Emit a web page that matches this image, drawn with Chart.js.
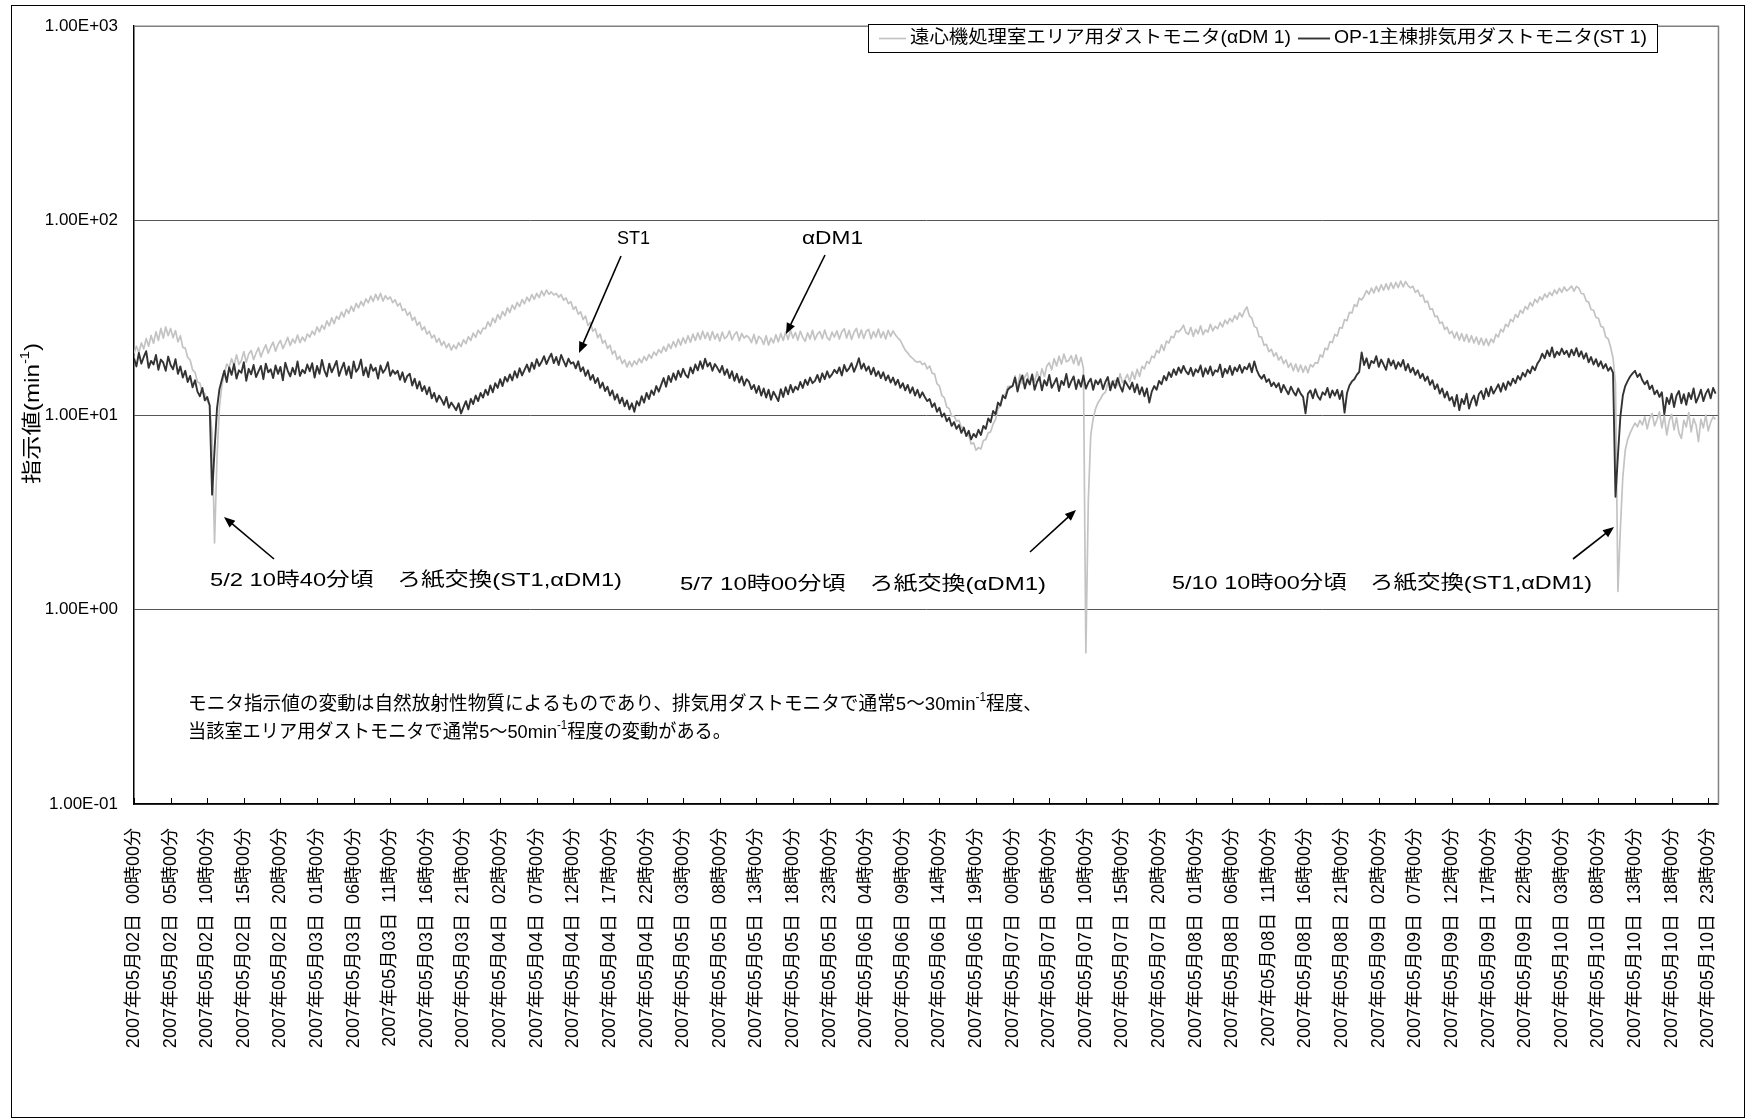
<!DOCTYPE html>
<html lang="ja">
<head>
<meta charset="utf-8">
<title>ダストモニタ指示値の推移</title>
<script src="https://cdn.jsdelivr.net/npm/chart.js@4.4.1/dist/chart.umd.min.js"></script>
<style>
  html, body { margin: 0; padding: 0; background: #fff; }
  canvas { display: block; }
</style>
</head>
<body>
<canvas id="chart" width="1746" height="1120"></canvas>
<script>
// ---- data: readings every 20 minutes from 2007/05/02 00:00 ----
const samplesPerHour = 3;

const seriesNames = [
  '遠心機処理室エリア用ダストモニタ(αDM 1)',
  'OP-1主棟排気用ダストモニタ(ST 1)'
];

// αDM1 (min^-1), one row per 12 hours
const adm1Values = [
  20.8, 22.6, 21.0, 23.5, 21.9, 24.8, 22.6, 25.7, 23.4, 26.8, 24.2, 27.9, 24.9, 28.4, 25.6, 27.9, 25.0, 27.2, 23.8, 25.6, 22.3, 22.1, 19.8, 19.2, 17.1, 16.6, 14.8, 14.6, 13.0, 12.9, 11.8, 11.3, 8.0, 2.2, 6.0, 11.0,
  14.2, 16.4, 18.3, 17.6, 19.5, 18.0, 20.4, 18.2, 19.1, 21.2, 18.7, 20.6, 21.5, 19.3, 20.8, 22.2, 19.9, 21.6, 23.0, 20.8, 22.4, 23.7, 21.3, 23.1, 24.2, 22.0, 23.4, 25.1, 22.8, 24.6, 23.5, 25.8, 23.6, 25.2, 24.0, 26.1,
  25.2, 27.0, 25.9, 28.4, 26.8, 29.0, 27.6, 30.5, 28.8, 31.6, 29.5, 32.2, 31.1, 33.9, 32.0, 35.0, 33.4, 36.3, 34.2, 37.5, 35.6, 38.4, 36.5, 39.6, 37.8, 40.9, 38.4, 41.8, 39.1, 42.3, 38.6, 41.1, 39.4, 40.5, 37.9, 39.2,
  36.4, 37.6, 34.5, 35.2, 32.6, 33.8, 30.7, 31.9, 29.0, 30.1, 27.4, 28.5, 26.1, 27.0, 24.9, 25.8, 23.7, 24.8, 22.8, 23.9, 22.2, 23.3, 21.6, 22.9, 21.9, 23.6, 22.5, 24.4, 23.3, 25.3, 24.2, 26.4, 25.1, 27.3, 26.2, 28.0,
  27.8, 30.2, 28.6, 31.5, 29.9, 32.9, 31.2, 34.1, 32.4, 35.6, 33.7, 36.8, 35.0, 38.0, 36.2, 39.3, 37.4, 40.4, 38.5, 41.7, 39.4, 42.3, 40.2, 43.5, 41.1, 44.0, 41.8, 43.0, 41.5, 42.2, 40.4, 41.6, 39.0, 40.1, 37.4, 38.3,
  35.0, 36.1, 33.1, 34.0, 31.0, 32.3, 28.9, 30.0, 27.0, 27.8, 25.0, 26.1, 23.4, 24.2, 22.0, 22.9, 20.6, 21.4, 19.3, 20.1, 18.4, 19.2, 17.7, 18.9, 17.8, 19.0, 18.2, 19.5, 18.6, 20.0, 19.1, 20.5, 19.6, 21.1, 20.3, 21.7,
  20.9, 22.5, 21.3, 23.2, 22.0, 23.9, 22.4, 24.6, 22.9, 25.0, 23.4, 25.6, 23.7, 26.1, 24.2, 26.5, 24.5, 27.0, 24.8, 26.6, 24.3, 26.9, 24.6, 26.2, 24.0, 26.7, 24.7, 25.4, 27.1, 24.4, 25.9, 26.8, 24.1, 26.3, 24.9, 25.6,
  25.0, 23.6, 26.0, 23.3, 25.4, 24.7, 23.1, 25.6, 22.9, 24.9, 23.5, 25.9, 23.8, 26.3, 24.2, 26.8, 24.5, 27.2, 24.9, 26.6, 24.3, 27.0, 25.1, 24.0, 26.5, 24.6, 27.3, 24.4, 26.1, 26.9, 24.7, 27.4, 25.0, 24.3, 26.7, 25.2,
  27.1, 24.6, 26.8, 27.8, 24.9, 27.3, 24.5, 26.7, 27.9, 25.0, 27.4, 24.8, 27.0, 27.6, 24.7, 26.9, 25.2, 27.7, 25.0, 26.8, 24.6, 27.3, 25.4, 27.1, 25.8, 24.9, 24.2, 22.8, 21.6, 20.9, 20.1, 19.6, 19.0, 18.7, 18.9, 18.2,
  18.5, 17.3, 17.9, 16.4, 16.3, 14.5, 14.1, 12.6, 12.3, 11.0, 10.8, 9.9, 9.9, 9.3, 9.4, 8.6, 8.7, 7.8, 7.9, 7.1, 7.2, 6.6, 6.8, 6.7, 7.4, 7.5, 8.1, 8.2, 9.0, 9.5, 10.8, 11.2, 12.7, 12.8, 14.0, 14.1,
  14.2, 15.9, 13.8, 16.2, 14.5, 15.7, 16.5, 14.3, 16.1, 14.8, 16.7, 15.1, 17.3, 15.8, 17.9, 18.6, 17.1, 19.5, 17.9, 20.1, 18.3, 20.6, 18.8, 19.1, 20.2, 18.4, 20.4, 18.0, 19.8, 17.4, 0.6, 3.6, 7.9, 9.6, 10.8, 11.6,
  12.1, 12.8, 13.1, 14.6, 14.3, 15.0, 15.1, 14.2, 16.3, 14.7, 15.2, 16.2, 14.9, 16.7, 15.3, 17.2, 15.8, 17.8, 17.3, 18.9, 18.4, 20.1, 19.7, 21.5, 20.9, 23.0, 21.5, 24.0, 23.5, 25.4, 25.0, 27.1, 26.8, 27.6, 29.0, 26.6,
  26.0, 28.3, 25.4, 27.6, 26.2, 28.8, 25.9, 27.4, 26.7, 29.3, 27.1, 28.6, 27.8, 29.9, 28.4, 30.8, 29.5, 31.4, 30.2, 32.5, 31.1, 33.6, 32.0, 34.4, 36.0, 32.4, 31.5, 28.6, 28.1, 25.3, 25.2, 22.9, 23.1, 21.2, 21.8, 20.1,
  20.9, 19.2, 20.0, 18.4, 19.2, 17.6, 18.5, 16.9, 18.3, 16.7, 18.1, 16.6, 17.9, 16.5, 18.2, 17.7, 18.6, 18.5, 20.4, 19.9, 22.1, 21.7, 23.9, 23.6, 26.0, 25.5, 28.2, 28.0, 31.0, 30.6, 33.8, 33.5, 37.0, 36.2, 39.9, 39.1,
  41.0, 43.7, 41.8, 45.0, 42.5, 45.9, 43.1, 46.8, 43.9, 47.3, 44.2, 47.9, 44.8, 48.1, 45.3, 48.9, 45.7, 48.6, 46.3, 45.1, 46.0, 42.8, 43.9, 40.9, 41.5, 38.0, 38.6, 35.0, 35.2, 32.1, 32.3, 29.7, 30.1, 27.6, 28.3, 26.2,
  27.0, 24.9, 26.7, 24.3, 26.3, 24.0, 26.0, 23.7, 25.6, 23.5, 25.2, 23.1, 24.9, 22.9, 24.7, 22.8, 24.6, 23.6, 26.0, 25.2, 27.6, 26.8, 29.3, 28.5, 31.1, 30.2, 32.9, 31.8, 34.6, 33.4, 36.2, 35.0, 37.9, 36.4, 39.4, 37.9,
  40.6, 39.1, 41.9, 40.3, 42.8, 41.2, 44.0, 42.1, 44.9, 42.8, 45.6, 43.5, 44.6, 46.1, 43.4, 45.9, 45.0, 42.2, 42.0, 38.6, 38.1, 34.9, 34.6, 31.8, 31.5, 28.6, 28.3, 25.2, 24.7, 22.4, 19.6, 14.5, 1.24, 2.6, 4.8, 6.6,
  7.5, 8.1, 8.6, 9.1, 8.7, 9.4, 8.9, 9.8, 8.5, 9.6, 10.2, 8.8, 9.5, 10.4, 8.6, 9.9, 7.9, 9.3, 10.1, 8.4, 9.7, 8.1, 7.6, 9.4, 8.7, 10.3, 8.2, 9.6, 8.9, 7.3, 9.5, 8.6, 10.0, 8.3, 9.2, 9.8,
  9.5
];

// ST1 (min^-1), one row per 12 hours
const st1Values = [
  19.6, 17.8, 20.9, 18.4, 19.9, 21.3, 17.5, 19.0, 18.2, 20.4, 17.1, 19.3, 18.6, 16.9, 20.0, 18.1, 17.2, 19.4, 16.3, 17.8, 15.6, 16.9, 14.8, 15.9, 13.9, 15.1, 13.2, 12.5, 13.8, 11.9, 12.4, 11.2, 3.9, 6.6, 10.8, 13.6,
  15.2, 16.9, 14.8, 17.6, 16.1, 18.3, 15.4, 17.0, 16.5, 18.7, 15.0, 17.3, 16.2, 18.1, 15.7, 16.8, 17.9, 15.3, 18.4, 16.6, 17.2, 15.5, 18.0, 16.3, 17.7, 15.1, 18.6, 16.9, 15.8, 17.5, 16.2, 18.9, 15.9, 17.1, 16.4, 18.2,
  16.8, 18.5, 15.6, 17.9, 16.3, 19.2, 17.0, 15.8, 18.4, 16.6, 17.7, 19.0, 15.9, 17.3, 18.6, 16.1, 17.8, 15.5, 18.9, 16.7, 17.4, 19.3, 16.0, 17.6, 15.7, 18.2, 16.9, 17.5, 15.4, 18.0, 16.5, 17.2, 18.7, 15.9, 17.0, 16.3,
  16.9, 15.2, 16.6, 14.8, 15.9, 16.3, 14.2, 15.4, 13.7, 14.9, 13.3, 14.1, 12.8, 13.9, 12.2, 13.0, 11.7, 12.6, 12.0, 11.3, 12.4, 10.9, 11.6, 11.1, 10.6, 11.5, 10.2, 11.0, 11.8, 10.7, 12.1, 11.4, 12.6, 11.8, 13.0, 12.3,
  13.5, 12.7, 14.2, 13.1, 14.6, 13.8, 15.3, 14.1, 15.7, 14.9, 16.2, 15.1, 16.8, 15.6, 17.4, 16.0, 17.1, 18.2, 16.7, 18.6, 17.3, 19.4, 17.9, 18.8, 20.1, 18.3, 19.6, 20.7, 18.5, 19.9, 18.1, 20.4, 19.0, 17.8, 19.5, 18.4,
  18.7, 17.4, 18.9, 16.8, 17.6, 15.9, 17.0, 15.2, 16.1, 14.6, 15.5, 13.8, 14.7, 13.3, 14.0, 12.6, 13.4, 12.0, 12.8, 11.5, 12.3, 11.1, 11.9, 10.7, 11.5, 10.4, 11.8, 11.2, 12.5, 11.6, 13.0, 12.1, 13.4, 12.7, 14.1, 13.2,
  14.3, 15.5, 14.0, 15.9, 14.8, 16.4, 15.2, 16.9, 15.7, 17.3, 16.1, 15.6, 17.6, 16.4, 18.2, 17.0, 18.9, 17.3, 19.5, 17.8, 18.6, 16.9, 18.3, 17.5, 16.6, 17.9, 16.1, 17.2, 15.5, 16.8, 15.0, 16.3, 14.7, 15.8, 14.2, 15.3,
  14.8, 13.6, 14.3, 13.0, 14.1, 12.6, 13.7, 12.3, 13.5, 12.0, 13.2, 12.5, 11.8, 13.6, 12.4, 13.9, 12.8, 14.3, 13.1, 14.0, 13.5, 14.8, 13.8, 15.2, 14.3, 15.6, 14.6, 15.0, 16.1, 14.8, 16.4, 15.3, 16.8, 15.6, 16.2, 17.1,
  16.4, 17.6, 16.0, 18.1, 16.8, 17.4, 18.5, 16.7, 17.9, 19.6, 17.3, 18.4, 16.9, 17.8, 16.2, 17.5, 15.9, 16.8, 15.5, 16.6, 15.1, 16.0, 14.7, 15.6, 14.3, 15.2, 13.8, 14.6, 13.4, 14.3, 13.0, 13.9, 12.6, 13.5, 12.3, 13.1,
  12.4, 11.8, 12.1, 11.0, 11.5, 10.4, 10.9, 9.8, 10.2, 9.3, 9.7, 8.8, 9.2, 8.5, 8.9, 8.1, 8.6, 7.8, 8.3, 7.5, 8.0, 7.7, 8.4, 7.9, 8.8, 8.5, 9.6, 9.2, 10.5, 10.1, 11.6, 11.2, 12.6, 12.2, 13.5, 13.9,
  14.1, 15.6, 13.2, 14.9, 16.0, 13.7, 15.3, 14.4, 16.2, 13.5, 14.8, 15.7, 13.4, 15.1, 14.2, 16.1, 13.8, 14.6, 15.5, 13.3, 15.0, 14.3, 16.3, 13.9, 14.9, 15.8, 13.6, 15.2, 14.0, 16.0, 13.7, 14.7, 15.4, 13.5, 15.1, 14.4,
  15.3, 13.6, 14.8, 15.7, 13.4, 14.9, 13.8, 15.5, 14.1, 13.2, 15.0, 14.3, 13.6, 14.7, 13.1, 14.4, 12.8, 13.9, 12.5, 13.7, 11.6, 13.2, 14.1, 13.5, 15.0, 14.4, 15.9, 15.1, 16.6, 15.7, 17.2, 16.1, 17.6, 16.5, 17.9, 16.8,
  16.2, 17.5, 15.9, 17.2, 16.6, 18.0, 15.8, 17.4, 16.3, 17.8, 16.0, 17.0, 16.7, 18.2, 15.7, 17.3, 16.4, 17.9, 16.1, 17.6, 16.8, 18.1, 16.5, 17.7, 17.2, 18.4, 16.6, 18.9, 17.1, 16.0, 15.4, 16.1, 14.8, 15.3, 14.1, 14.7,
  13.9, 14.6, 13.1, 14.3, 13.5, 12.8, 14.0, 13.2, 12.6, 13.7, 12.9, 12.4, 10.2, 12.9, 13.4, 12.2, 13.6, 12.5, 12.0, 13.1, 12.7, 13.8, 12.3, 13.4, 12.6, 13.5, 12.1, 13.3, 10.3, 13.0, 14.2, 14.9, 15.3, 16.1, 16.7, 21.0,
  18.1, 19.6, 17.4, 19.0, 18.5, 20.1, 17.7, 19.3, 18.2, 17.1, 19.5, 18.0, 19.1, 17.3, 18.7, 17.8, 19.2, 17.0, 18.3, 16.6, 17.5, 16.1, 17.0, 15.5, 16.3, 15.0, 15.8, 14.3, 15.1, 13.6, 14.4, 12.9, 13.7, 12.3, 13.2, 11.9,
  12.4, 11.1, 12.7, 10.6, 12.1, 11.4, 12.9, 10.8, 11.9, 12.6, 11.2, 12.8, 13.3, 12.1, 13.7, 12.5, 14.0, 12.9, 13.6, 14.4, 13.2, 14.6, 13.5, 14.9, 14.2, 15.4, 14.6, 15.9, 15.2, 16.5, 15.8, 17.1, 16.4, 17.8, 17.0, 18.4,
  19.2, 20.7, 19.6, 21.5, 20.1, 22.3, 19.8, 21.2, 20.4, 22.0, 20.6, 21.4, 19.9, 21.7, 20.3, 22.1, 20.0, 21.3, 19.5, 20.8, 18.7, 19.9, 18.2, 19.4, 17.8, 18.9, 17.4, 18.3, 16.9, 17.6, 16.5, 3.8, 6.2, 9.8, 12.6, 14.1,
  15.0, 15.8, 16.4, 16.9, 15.7, 16.3, 15.1, 14.4, 15.0, 13.6, 14.2, 12.8, 13.4, 12.4, 13.1, 10.1, 12.3, 11.4, 12.9, 11.0, 12.6, 13.3, 11.5, 12.8, 11.3, 13.0, 12.1, 13.7, 11.6, 12.4, 13.5, 11.8, 12.9, 13.6, 12.2, 13.8,
  12.9
];

// x axis: labelled every 5 hours (hours since 2007/05/02 00:00)
const tickHours = [
  0, 5, 10, 15, 20, 25, 30, 35, 40, 45, 50, 55, 60, 65, 70, 75, 80, 85, 90, 95, 100, 105,
  110, 115, 120, 125, 130, 135, 140, 145, 150, 155, 160, 165, 170, 175, 180, 185, 190, 195, 200, 205, 210, 215
];
const tickLabels = [
  '2007年05月02日  00時00分', '2007年05月02日  05時00分', '2007年05月02日  10時00分', '2007年05月02日  15時00分',
  '2007年05月02日  20時00分', '2007年05月03日  01時00分', '2007年05月03日  06時00分', '2007年05月03日  11時00分',
  '2007年05月03日  16時00分', '2007年05月03日  21時00分', '2007年05月04日  02時00分', '2007年05月04日  07時00分',
  '2007年05月04日  12時00分', '2007年05月04日  17時00分', '2007年05月04日  22時00分', '2007年05月05日  03時00分',
  '2007年05月05日  08時00分', '2007年05月05日  13時00分', '2007年05月05日  18時00分', '2007年05月05日  23時00分',
  '2007年05月06日  04時00分', '2007年05月06日  09時00分', '2007年05月06日  14時00分', '2007年05月06日  19時00分',
  '2007年05月07日  00時00分', '2007年05月07日  05時00分', '2007年05月07日  10時00分', '2007年05月07日  15時00分',
  '2007年05月07日  20時00分', '2007年05月08日  01時00分', '2007年05月08日  06時00分', '2007年05月08日  11時00分',
  '2007年05月08日  16時00分', '2007年05月08日  21時00分', '2007年05月09日  02時00分', '2007年05月09日  07時00分',
  '2007年05月09日  12時00分', '2007年05月09日  17時00分', '2007年05月09日  22時00分', '2007年05月10日  03時00分',
  '2007年05月10日  08時00分', '2007年05月10日  13時00分', '2007年05月10日  18時00分', '2007年05月10日  23時00分'
];
const xMaxHours = 216.4;

// y axis (logarithmic)
const yTickValues = [0.1, 1, 10, 100, 1000];
const yTickLabels = ['1.00E-01', '1.00E+00', '1.00E+01', '1.00E+02', '1.00E+03'];

// ---- drawing ----
const FONT = '"Liberation Sans", "Noto Sans CJK JP", sans-serif';
const ADM1_COLOR = '#c3c3c3';
const ST1_COLOR = '#333333';

const toPoints = vals => vals.map((v, i) => ({ x: i / samplesPerHour, y: v }));

// draw a run of text segments (some superscript), optionally stretched to a width
function drawRich(ctx, segs, x, y, size, width, rotate) {
  const base = size + 'px ' + FONT;
  const supSize = Math.round(size * 0.62);
  const sup = supSize + 'px ' + FONT;
  let total = 0;
  const widths = segs.map(s => {
    ctx.font = s.sup ? sup : base;
    const w = ctx.measureText(s.t).width;
    total += w;
    return w;
  });
  const k = width ? width / total : 1;
  ctx.save();
  ctx.translate(x, y);
  if (rotate) ctx.rotate(rotate);
  ctx.scale(k, 1);
  ctx.textAlign = 'left';
  ctx.textBaseline = 'middle';
  ctx.fillStyle = '#000';
  let cx = 0;
  segs.forEach((s, i) => {
    ctx.font = s.sup ? sup : base;
    ctx.fillText(s.t, cx, s.sup ? -size * 0.36 : 0);
    cx += widths[i];
  });
  ctx.restore();
}

function arrow(ctx, x1, y1, x2, y2) {
  const ang = Math.atan2(y2 - y1, x2 - x1);
  const len = 11, hw = 4.5;
  ctx.save();
  ctx.strokeStyle = '#000';
  ctx.fillStyle = '#000';
  ctx.lineWidth = 1.6;
  ctx.beginPath();
  ctx.moveTo(x1, y1);
  ctx.lineTo(x2 - Math.cos(ang) * len * 0.8, y2 - Math.sin(ang) * len * 0.8);
  ctx.stroke();
  ctx.beginPath();
  ctx.moveTo(x2, y2);
  ctx.lineTo(x2 - Math.cos(ang) * len + Math.sin(ang) * hw, y2 - Math.sin(ang) * len - Math.cos(ang) * hw);
  ctx.lineTo(x2 - Math.cos(ang) * len - Math.sin(ang) * hw, y2 - Math.sin(ang) * len + Math.cos(ang) * hw);
  ctx.closePath();
  ctx.fill();
  ctx.restore();
}

const decorations = {
  id: 'decorations',
  beforeDraw(chart) {
    const ctx = chart.ctx;
    ctx.save();
    ctx.fillStyle = '#fff';
    ctx.fillRect(0, 0, chart.width, chart.height);
    ctx.restore();
  },
  afterDraw(chart) {
    const { ctx, chartArea: a } = chart;
    const xs = chart.scales.x;
    ctx.save();

    // outer frame
    ctx.strokeStyle = '#000';
    ctx.lineWidth = 1;
    ctx.strokeRect(11.5, 5.5, chart.width - 13, chart.height - 8);

    // plot frame: top and right edges
    ctx.strokeStyle = '#808080';
    ctx.lineWidth = 1.5;
    ctx.beginPath();
    ctx.moveTo(a.left, a.top);
    ctx.lineTo(a.right, a.top);
    ctx.lineTo(a.right, a.bottom);
    ctx.stroke();

    // tick marks on the time axis, pointing into the plot
    ctx.strokeStyle = '#000';
    ctx.lineWidth = 1;
    ctx.beginPath();
    xs.ticks.forEach(t => {
      const px = Math.round(xs.getPixelForValue(t.value)) + 0.5;
      ctx.moveTo(px, a.bottom);
      ctx.lineTo(px, a.bottom - 6);
    });
    ctx.stroke();

    // legend box
    const ds = chart.data.datasets;
    ctx.fillStyle = '#fff';
    ctx.fillRect(868, 24, 789, 28);
    ctx.strokeStyle = '#000';
    ctx.lineWidth = 1;
    ctx.strokeRect(868.5, 24.5, 789, 28);
    const legendY = 38.5;
    const legendItems = [
      { sx1: 879, sx2: 906, tx: 910, tw: 381 },
      { sx1: 1298, sx2: 1330, tx: 1334, tw: 313 }
    ];
    legendItems.forEach((it, i) => {
      ctx.strokeStyle = ds[i].borderColor;
      ctx.lineWidth = ds[i].borderWidth;
      ctx.beginPath();
      ctx.moveTo(it.sx1, legendY);
      ctx.lineTo(it.sx2, legendY);
      ctx.stroke();
      drawRich(ctx, [{ t: ds[i].label }], it.tx, legendY, 18, it.tw);
    });

    // y axis title
    drawRich(ctx, [{ t: '指示値(min' }, { t: '-1', sup: true }, { t: ')' }], 33, 484, 20, 141, -Math.PI / 2);

    // series callouts
    drawRich(ctx, [{ t: 'ST1' }], 617, 239, 18, 33);
    arrow(ctx, 621, 256, 579, 353);
    drawRich(ctx, [{ t: 'αDM1' }], 802, 239, 18, 61);
    arrow(ctx, 825, 255, 786, 334);

    // filter-paper replacement notes
    drawRich(ctx, [{ t: '5/2 10時40分頃　ろ紙交換(ST1,αDM1)' }], 210, 581, 19, 412);
    arrow(ctx, 274, 559, 224, 517);
    drawRich(ctx, [{ t: '5/7 10時00分頃　ろ紙交換(αDM1)' }], 680, 585, 19, 366);
    arrow(ctx, 1030, 552, 1076, 510);
    drawRich(ctx, [{ t: '5/10 10時00分頃　ろ紙交換(ST1,αDM1)' }], 1172, 584, 19, 420);
    arrow(ctx, 1573, 559, 1614, 527);

    // explanatory note
    drawRich(ctx, [
      { t: 'モニタ指示値の変動は自然放射性物質によるものであり、排気用ダストモニタで通常5～30min' },
      { t: '-1', sup: true },
      { t: '程度、' }
    ], 188, 705, 19, 854);
    drawRich(ctx, [
      { t: '当該室エリア用ダストモニタで通常5～50min' },
      { t: '-1', sup: true },
      { t: '程度の変動がある。' }
    ], 188, 733, 19, 543);

    ctx.restore();
  }
};

new Chart(document.getElementById('chart'), {
  type: 'line',
  data: {
    datasets: [
      {
        label: seriesNames[0],
        data: toPoints(adm1Values),
        borderColor: ADM1_COLOR,
        borderWidth: 1.7,
        pointRadius: 0,
        tension: 0,
        borderJoinStyle: 'round',
        order: 1
      },
      {
        label: seriesNames[1],
        data: toPoints(st1Values),
        borderColor: ST1_COLOR,
        borderWidth: 1.9,
        pointRadius: 0,
        tension: 0,
        borderJoinStyle: 'round',
        order: 0
      }
    ]
  },
  options: {
    responsive: false,
    animation: false,
    events: [],
    devicePixelRatio: 1,
    layout: { padding: { left: 0, top: 20, right: 26, bottom: 0 } },
    plugins: {
      legend: { display: false },
      tooltip: { enabled: false },
      title: { display: false }
    },
    scales: {
      x: {
        type: 'linear',
        min: 0,
        max: xMaxHours,
        afterBuildTicks: axis => { axis.ticks = tickHours.map(v => ({ value: v })); },
        afterFit: axis => { axis.height = 316; },
        grid: { display: false },
        border: { display: true, color: '#000', width: 1.5 },
        ticks: {
          autoSkip: false,
          minRotation: 90,
          maxRotation: 90,
          padding: 16,
          color: '#000',
          font: { family: FONT, size: 18 },
          callback: (value, index) => tickLabels[index]
        }
      },
      y: {
        type: 'logarithmic',
        min: 0.1,
        max: 1000,
        afterBuildTicks: axis => { axis.ticks = yTickValues.map(v => ({ value: v, major: true })); },
        afterFit: axis => { axis.width = 134; },
        grid: { display: true, color: '#555555', lineWidth: 1, drawTicks: false },
        border: { display: true, color: '#000', width: 1.5 },
        ticks: {
          padding: 16,
          color: '#000',
          font: { family: FONT, size: 17 },
          callback: value => yTickLabels[yTickValues.indexOf(value)]
        }
      }
    }
  },
  plugins: [decorations]
});
</script>
</body>
</html>
